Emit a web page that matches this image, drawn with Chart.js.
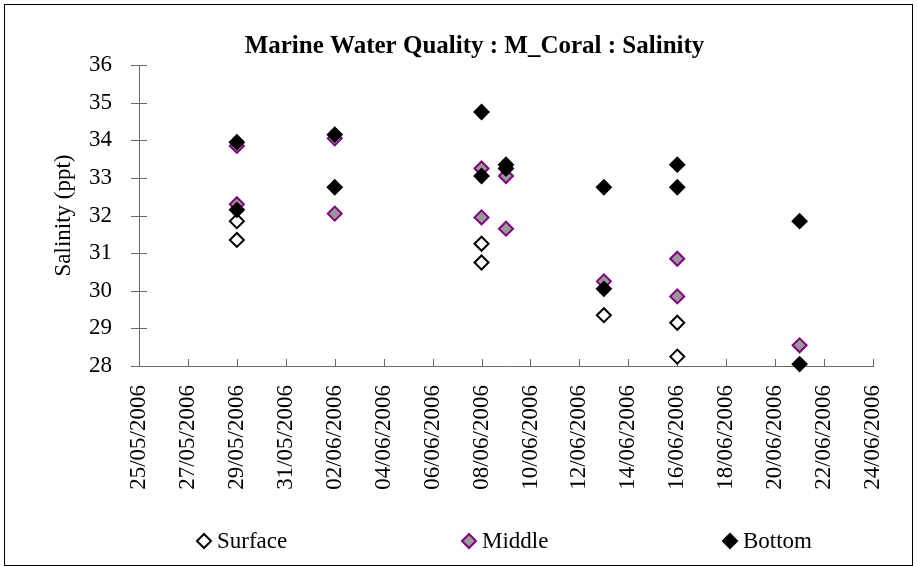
<!DOCTYPE html>
<html>
<head>
<meta charset="utf-8">
<script src="https://cdn.jsdelivr.net/npm/chart.js@4"></script>
<style>
  body { margin: 0; background: #fff; }
  #frame { position: absolute; left: 4px; top: 4px; width: 907px; height: 560px; border: 1px solid #000; overflow: hidden; }
  canvas { display: block; }
</style>
</head>
<body>
<div id="frame"><canvas id="chart" width="907" height="560"></canvas></div>
<script>
// readings taken off the chart, per series
const surfaceDates  = ['29/05/2006', '29/05/2006', '08/06/2006', '08/06/2006', '13/06/2006', '16/06/2006', '16/06/2006'];
const surfaceValues = [31.85, 31.35, 31.25, 30.75, 29.35, 29.15, 28.25];

const middleDates  = ['29/05/2006', '29/05/2006', '02/06/2006', '02/06/2006', '08/06/2006', '08/06/2006',
                      '09/06/2006', '09/06/2006', '13/06/2006', '16/06/2006', '16/06/2006', '21/06/2006'];
const middleValues = [33.85, 32.3, 34.05, 32.05, 33.25, 31.95, 33.05, 31.65, 30.25, 30.85, 29.85, 28.55];

const bottomDates  = ['29/05/2006', '29/05/2006', '02/06/2006', '02/06/2006', '08/06/2006', '08/06/2006',
                      '09/06/2006', '09/06/2006', '13/06/2006', '13/06/2006', '16/06/2006', '16/06/2006',
                      '21/06/2006', '21/06/2006'];
const bottomValues = [33.95, 32.15, 34.15, 32.75, 34.75, 33.05, 33.35, 33.25, 32.75, 30.05, 33.35, 32.75, 31.85, 28.05];

const seriesNames = ['Surface', 'Middle', 'Bottom'];
const xStart = '25/05/2006';
const xEnd = '24/06/2006';
const yMin = 28, yMax = 36;

const FONT = '"Liberation Serif", "Times New Roman", serif';
const AXIS = '#6a6a6a';

// dd/mm/yyyy -> whole days since epoch (linear axis, no date adapter here)
function toDay(s) {
  const [d, m, y] = s.split('/').map(Number);
  return Date.UTC(y, m - 1, d) / 86400000;
}
function fromDay(n) {
  const dt = new Date(Math.round(n) * 86400000);
  const p = v => String(v).padStart(2, '0');
  return p(dt.getUTCDate()) + '/' + p(dt.getUTCMonth() + 1) + '/' + dt.getUTCFullYear();
}
const pts = (dates, vals) => dates.map((d, i) => ({ x: toDay(d), y: vals[i] }));

const styles = [
  { bg: '#ffffff', border: '#000000' },
  { bg: '#999999', border: '#800080' },
  { bg: '#000000', border: '#000000' }
];

// excel style ticks: crossing on the value axis, inward on the date axis
const tickMarks = {
  id: 'tickMarks',
  beforeDatasetsDraw(chart) {
    const { ctx, chartArea, scales } = chart;
    ctx.save();
    ctx.strokeStyle = AXIS;
    ctx.lineWidth = 1;
    ctx.beginPath();
    scales.y.ticks.forEach(t => {
      const py = Math.round(scales.y.getPixelForValue(t.value)) + 0.5;
      ctx.moveTo(chartArea.left - 8, py);
      ctx.lineTo(chartArea.left + 8, py);
    });
    scales.x.ticks.forEach(t => {
      const px = Math.round(scales.x.getPixelForValue(t.value)) + 0.5;
      ctx.moveTo(px, chartArea.bottom - 7);
      ctx.lineTo(px, chartArea.bottom);
    });
    ctx.stroke();
    ctx.restore();
  }
};

// legend spread out along the bottom like the excel one
const spreadLegend = {
  id: 'spreadLegend',
  afterDraw(chart) {
    const { ctx, chartArea } = chart;
    const offsets = [65, 330, 591];
    const ly = 536;
    ctx.save();
    ctx.font = '23px ' + FONT;
    ctx.textBaseline = 'middle';
    seriesNames.forEach((name, i) => {
      const cx = chartArea.left + offsets[i];
      const r = 7;
      ctx.beginPath();
      ctx.moveTo(cx - r, ly);
      ctx.lineTo(cx, ly - r);
      ctx.lineTo(cx + r, ly);
      ctx.lineTo(cx, ly + r);
      ctx.closePath();
      ctx.fillStyle = styles[i].bg;
      ctx.fill();
      ctx.lineWidth = 2;
      ctx.strokeStyle = styles[i].border;
      ctx.stroke();
      ctx.fillStyle = '#000';
      ctx.fillText(name, cx + 13, ly + 1);
    });
    ctx.restore();
  }
};

const seriesData = [pts(surfaceDates, surfaceValues), pts(middleDates, middleValues), pts(bottomDates, bottomValues)];

const chart = new Chart(document.getElementById('chart'), {
  type: 'scatter',
  data: {
    datasets: seriesNames.map((name, i) => ({
      label: name,
      data: seriesData[i],
      pointStyle: 'rectRot',
      pointRadius: 7,
      pointHoverRadius: 7,
      borderWidth: 2,
      backgroundColor: styles[i].bg,
      borderColor: styles[i].border,
      order: 3 - i,
      clip: false
    }))
  },
  options: {
    responsive: false,
    animation: false,
    devicePixelRatio: 1,
    layout: { padding: { left: 32, right: 0, top: 0, bottom: 72 } },
    plugins: {
      legend: { display: false },
      tooltip: { enabled: false },
      title: {
        display: true,
        text: 'Marine Water Quality : M_Coral : Salinity',
        color: '#000',
        font: { family: FONT, size: 25, weight: 'bold' },
        padding: { top: 27, bottom: 3 }
      }
    },
    scales: {
      x: {
        type: 'linear',
        min: toDay(xStart),
        max: toDay(xEnd),
        grid: { display: false, drawTicks: false },
        border: { display: true, color: AXIS, width: 1 },
        ticks: {
          stepSize: 2,
          autoSkip: false,
          maxRotation: 90,
          minRotation: 90,
          padding: 19,
          color: '#000',
          font: { family: FONT, size: 23 },
          callback: v => fromDay(v)
        },
        afterFit(scale) {
          scale.height = 127;
          scale.paddingRight = 39;
        }
      },
      y: {
        min: yMin,
        max: yMax,
        grid: { display: false, drawTicks: false },
        border: { display: true, color: AXIS, width: 1 },
        ticks: {
          stepSize: 1,
          padding: 27,
          color: '#000',
          font: { family: FONT, size: 23 }
        },
        title: {
          display: true,
          text: 'Salinity (ppt)',
          color: '#000',
          font: { family: FONT, size: 23 },
          padding: { top: 13, bottom: 0 }
        },
        afterFit(scale) {
          scale.width = 102;
        }
      }
    }
  },
  plugins: [tickMarks, spreadLegend]
});
</script>
</body>
</html>
